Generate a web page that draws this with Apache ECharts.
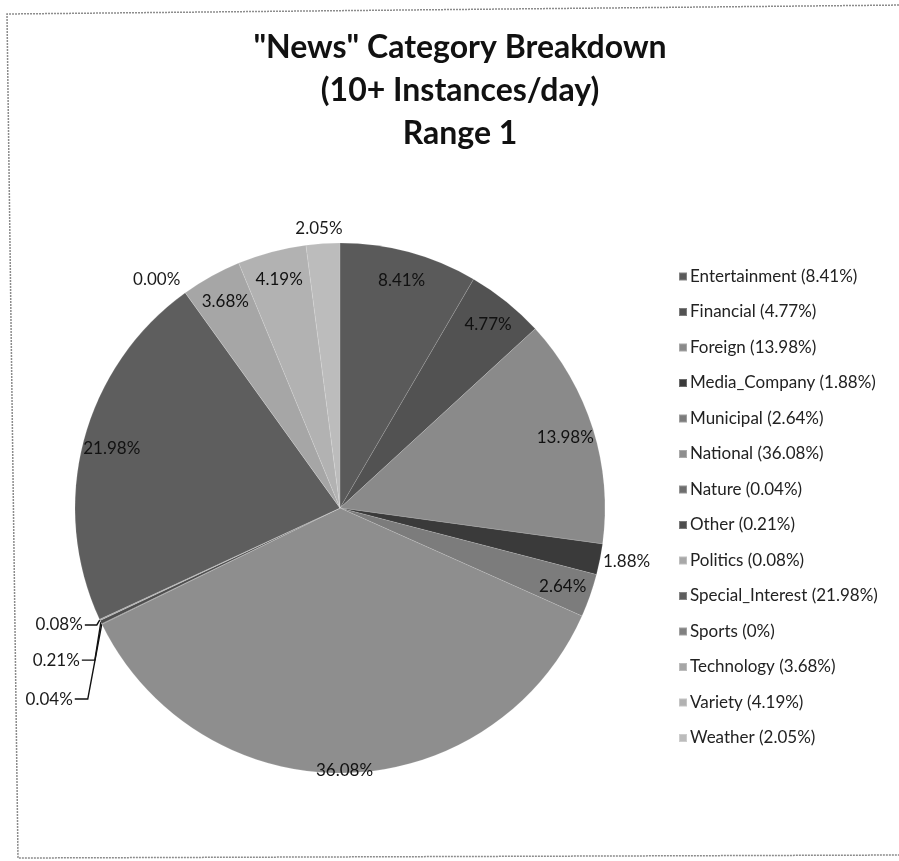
<!DOCTYPE html>
<html>
<head>
<meta charset="utf-8">
<style>
  html, body { margin: 0; padding: 0; background: #fff; }
  #chart { width: 899px; height: 861px; }
</style>
<script src="https://cdn.jsdelivr.net/npm/echarts@6/dist/echarts.min.js"></script>
</head>
<body>
<div id="chart"></div>
<script>
// News categories and their share of items (percent), clockwise from 12 o'clock
const categories = ['Entertainment', 'Financial', 'Foreign', 'Media_Company', 'Municipal', 'National',
  'Nature', 'Other', 'Politics', 'Special_Interest', 'Sports', 'Technology', 'Variety', 'Weather'];
const shares = [8.41, 4.77, 13.98, 1.88, 2.64, 36.08, 0.04, 0.21, 0.08, 21.98, 0, 3.68, 4.19, 2.05];
const titleLines = ['"News" Category Breakdown', '(10+ Instances/day)', 'Range 1'];

// grey tones per slice
const sliceColors = {
  Entertainment: '#5a5a5a', Financial: '#525252', Foreign: '#8a8a8a', Media_Company: '#3a3a3a',
  Municipal: '#7c7c7c', National: '#8e8e8e', Nature: '#6e6e6e', Other: '#4e4e4e',
  Politics: '#a8a8a8', Special_Interest: '#5e5e5e', Sports: '#808080', Technology: '#a6a6a6',
  Variety: '#b2b2b2', Weather: '#bcbcbc'
};

// slices whose value sits inside the pie, near the rim (two rings of label radius)
const rimLabelled = ['Entertainment', 'Financial', 'Foreign', 'Municipal',
  'Special_Interest', 'Technology', 'Variety'];
const edgeLabelled = ['National'];

// outside labels: text position and leader line relative to the slice's rim point
const outsidePlacement = {
  Weather:       { dx: -4,  dy: -15, align: 'center', line: null },
  Sports:        { dx: -5,  dy: -13, align: 'right',  line: null },
  Media_Company: { dx: 3,   dy: 2,   align: 'left',   line: null },
  Politics:      { dx: -17, dy: 5,   align: 'right',  line: [[-3, 5], [-15, 5]] },
  Other:         { dx: -21, dy: 38,  align: 'right',  line: [[-6, 38], [-19, 38]] },
  Nature:        { dx: -29, dy: 75,  align: 'right',  line: [[-14, 75], [-27, 75]] }
};

const FONT = 'Lato, "Open Sans", sans-serif';
const CENTER = [340, 508];
const RADIUS = 265;
const shareOf = {};
categories.forEach((c, i) => { shareOf[c] = shares[i]; });
const pct = v => v.toFixed(2) + '%';

const pieData = categories.map((name, i) => {
  const outside = outsidePlacement[name];
  return {
    name: name,
    value: shares[i],
    itemStyle: { color: sliceColors[name] },
    label: { show: !!outside },
    labelLine: {
      show: !!outside,
      lineStyle: { color: '#111', width: 1.4, opacity: outside && outside.line ? 1 : 0 }
    }
  };
});

// invisible ring carrying in-slice value labels for the listed categories
function labelRing(radius, shown) {
  return {
    type: 'pie',
    center: CENTER,
    radius: radius,
    startAngle: 90,
    clockwise: true,
    silent: true,
    avoidLabelOverlap: false,
    minShowLabelAngle: 0,
    emphasis: { disabled: true },
    itemStyle: { color: 'rgba(0,0,0,0)' },
    label: {
      position: 'inside',
      formatter: p => pct(p.value),
      fontFamily: FONT,
      fontSize: 17,
      color: '#111'
    },
    labelLine: { show: false },
    data: categories.map((name, i) => ({
      name: name,
      value: shares[i],
      label: { show: shown.indexOf(name) >= 0 }
    }))
  };
}

const chart = echarts.init(document.getElementById('chart'), null, { renderer: 'canvas' });

chart.setOption({
  backgroundColor: '#ffffff',
  animation: false,
  title: {
    text: titleLines.join('\n'),
    left: 455,
    top: 21,
    textAlign: 'center',
    textStyle: { fontFamily: FONT, fontSize: 32, fontWeight: 'bold', color: '#111', lineHeight: 43 }
  },
  legend: {
    orient: 'vertical',
    left: 673,
    top: 263,
    itemWidth: 8,
    itemHeight: 8,
    itemGap: 18.5,
    icon: 'rect',
    data: categories,
    formatter: name => name + ' (' + shareOf[name] + '%)',
    textStyle: { fontFamily: FONT, fontSize: 17, color: '#222', padding: [0, 0, 0, -2] }
  },
  graphic: [{
    type: 'polyline',
    silent: true,
    shape: { points: [[905, 5], [7, 14], [18, 858], [905, 855]] },
    style: { stroke: '#8c8c8c', lineWidth: 1.5, fill: null, lineDash: [2, 1] }
  }],
  series: [
    {
      type: 'pie',
      center: CENTER,
      radius: RADIUS,
      startAngle: 90,
      clockwise: true,
      avoidLabelOverlap: false,
      minShowLabelAngle: 0,
      stillShowZeroSum: true,
      emphasis: { disabled: true },
      itemStyle: { borderWidth: 0.5, borderColor: 'rgba(255,255,255,0.25)' },
      label: {
        position: 'outside',
        formatter: p => pct(p.value),
        fontFamily: FONT,
        fontSize: 17,
        color: '#1a1a1a'
      },
      labelLine: { length: 0, length2: 0 },
      labelLayout: function (p) {
        const name = categories[p.dataIndex];
        const cfg = outsidePlacement[name];
        if (!cfg || !p.labelLinePoints) return {};
        const a = p.labelLinePoints[0];
        const out = {
          x: a[0] + cfg.dx,
          y: a[1] + cfg.dy,
          align: cfg.align,
          verticalAlign: 'middle'
        };
        if (cfg.line) {
          out.labelLinePoints = [[a[0], a[1]]].concat(cfg.line.map(d => [a[0] + d[0], a[1] + d[1]]));
        } else {
          out.labelLinePoints = [[a[0], a[1]], [a[0], a[1]], [a[0], a[1]]];
        }
        return out;
      },
      data: pieData
    },
    labelRing([201, RADIUS], rimLabelled),
    labelRing([255, RADIUS], edgeLabelled)
  ]
});
</script>
</body>
</html>
